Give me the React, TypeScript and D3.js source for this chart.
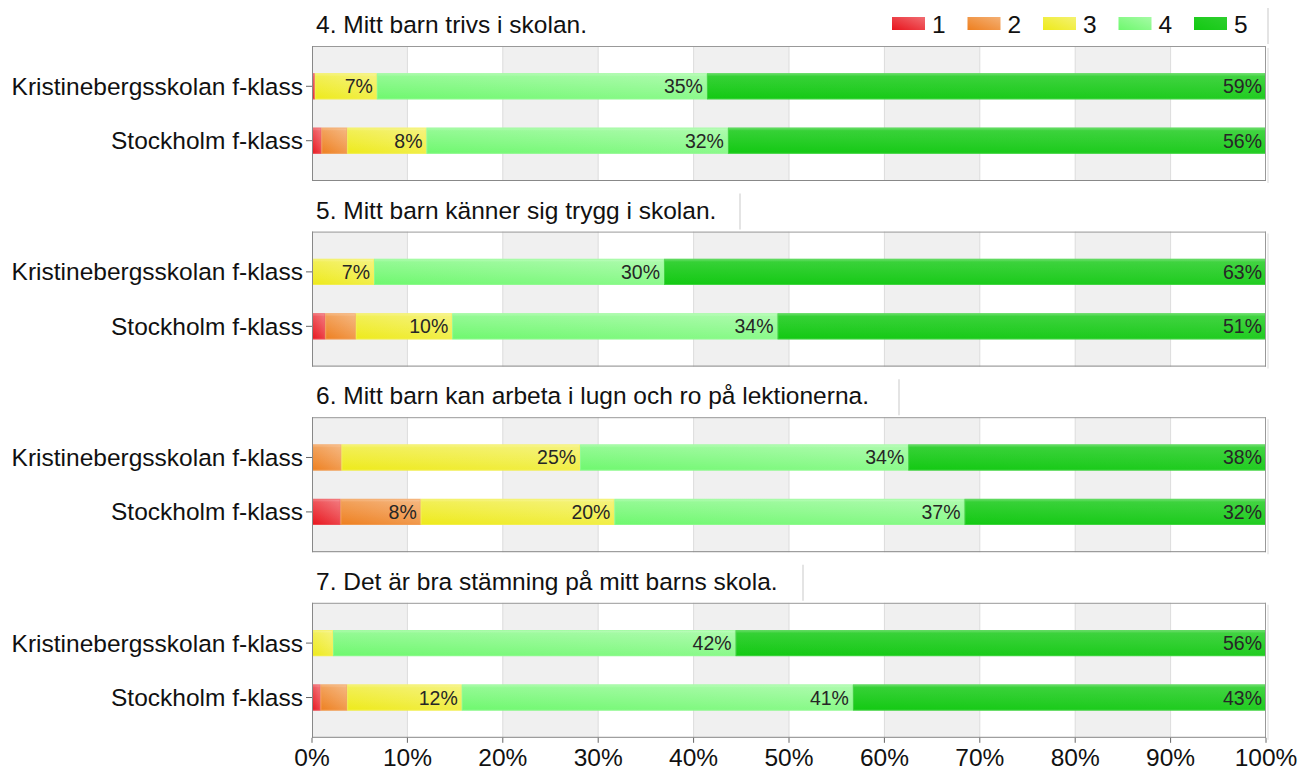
import React from 'react';
import * as d3 from 'd3';

// survey questions (one panel each)
const questions = [
  '4. Mitt barn trivs i skolan.',
  '5. Mitt barn känner sig trygg i skolan.',
  '6. Mitt barn kan arbeta i lugn och ro på lektionerna.',
  '7. Det är bra stämning på mitt barns skola.',
];
const groups = ['Kristinebergsskolan f-klass', 'Stockholm f-klass'];
const answerKeys = ['1', '2', '3', '4', '5'];
const answerColors = ['#e8141c', '#ee7f1f', '#eeea1a', '#6ef86e', '#12c912'];

// percentage share of answers 1..5, per question, per group
const kristinebergValues = [
  [0.3, 0, 6.5, 34.6, 58.6],
  [0, 0, 6.5, 30.4, 63.1],
  [0, 3.1, 25.0, 34.4, 37.5],
  [0, 0, 2.2, 42.2, 55.6],
];
const stockholmValues = [
  [1.0, 2.7, 8.3, 31.6, 56.4],
  [1.4, 3.2, 10.1, 34.1, 51.2],
  [3.0, 8.4, 20.3, 36.7, 31.6],
  [0.9, 2.8, 12.0, 41.0, 43.3],
];
const xTicks = [0, 10, 20, 30, 40, 50, 60, 70, 80, 90, 100];

const W = 1298;
const H = 771;
const FONT = 'Liberation Sans, Arial, sans-serif';

const margin = { left: 312, right: 32, top: 46 };
const panelH = 135;
const panelStep = 185.6;

export default function App() {
  const x = d3.scaleLinear().domain([0, 100]).range([margin.left, W - margin.right]);
  const panelY = d3.scaleLinear().domain([0, 1]).range([margin.top, margin.top + panelStep]);
  const rowY = d3.scaleBand<string>().domain(groups).range([0, panelH]).paddingInner(0.52).paddingOuter(0.5);
  const color = d3.scaleOrdinal<string, string>().domain(answerKeys).range(answerColors);

  const lighten = (c: string, t: number) => d3.interpolateRgb(c, '#ffffff')(t);

  const titleWidths = [956, 428, 587, 491];

  return (
    <svg width={W} height={H} style={{ position: 'absolute', left: 0, top: 0, background: '#fff' }} fontFamily={FONT}>
      <defs>
        {answerKeys.map((k, i) => (
          <linearGradient key={k} id={`grad${k}`} x1="0" y1="1" x2="1" y2="0">
            <stop offset="0%" stopColor={answerColors[i]} />
            <stop offset="100%" stopColor={lighten(answerColors[i], k === '5' ? 0.12 : 0.38)} />
          </linearGradient>
        ))}
        <linearGradient id="gloss" x1="0" y1="0" x2="0" y2="1">
          <stop offset="0%" stopColor="#fff" stopOpacity={0.35} />
          <stop offset="12%" stopColor="#fff" stopOpacity={0.1} />
          <stop offset="100%" stopColor="#fff" stopOpacity={0} />
        </linearGradient>
      </defs>

      {questions.map((q, qi) => {
        const top = panelY(qi);
        const bottom = top + panelH;
        const rows = [kristinebergValues[qi], stockholmValues[qi]];
        return (
          <g key={q}>
            {/* title strip with soft shadow */}
            <line x1={margin.left + titleWidths[qi]} x2={margin.left + titleWidths[qi]} y1={top - 38} y2={top - 2} stroke="#e4e4e4" strokeWidth={2} />
            <text x={x(0) + 4} y={top - 13} fontSize={24.5} fill="#111">{q}</text>

            {/* alternating bands */}
            {xTicks.slice(0, -1).map((t, i) => (
              <rect key={t} x={x(t)} y={top} width={x(t + 10) - x(t)} height={panelH} fill={i % 2 === 0 ? '#f0f0f0' : '#fff'} />
            ))}
            {xTicks.slice(1, -1).map((t) => (
              <line key={t} x1={x(t)} x2={x(t)} y1={top} y2={bottom} stroke="#dcdcdc" />
            ))}

            {/* bars */}
            {rows.map((vals, ri) => {
              const y0 = top + (rowY(groups[ri]) ?? 0);
              const bh = rowY.bandwidth();
              let acc = 0;
              const segs = vals.map((v, k) => {
                const s = { k: answerKeys[k], start: acc, v };
                acc += v;
                return s;
              });
              return (
                <g key={ri}>
                  <line x1={x(0) - 6} x2={x(0)} y1={y0 + bh / 2} y2={y0 + bh / 2} stroke="#666" />
                  <text x={x(0) - 9} y={y0 + bh / 2 + 8.5} textAnchor="end" fontSize={24.5} fill="#111">{groups[ri]}</text>
                  {segs.filter((s) => s.v > 0).map((s) => (
                    <g key={s.k}>
                      <rect x={x(s.start)} y={y0} width={x(s.start + s.v) - x(s.start)} height={bh} fill={`url(#grad${s.k})`} />
                      <rect x={x(s.start)} y={y0} width={x(s.start + s.v) - x(s.start)} height={bh} fill="url(#gloss)" />
                      <rect x={x(s.start) + 0.5} y={y0 + 0.5} width={Math.max(0, x(s.start + s.v) - x(s.start) - 1)} height={bh - 1} fill="none" stroke={lighten(color(s.k), 0.3)} strokeOpacity={0.6} />
                    </g>
                  ))}
                  {segs.filter((s) => s.v >= 5).map((s) => (
                    <text key={`l${s.k}`} x={x(s.start + s.v) - 4} y={y0 + bh / 2 + 7} textAnchor="end" fontSize={19.5} fill="#262626">
                      {`${Math.round(s.v)}%`}
                    </text>
                  ))}
                </g>
              );
            })}

            {/* frame */}
            <line x1={x(100) + 2} x2={x(100) + 2} y1={top + 2} y2={bottom + 2} stroke="#ececec" strokeWidth={2} />
            <line x1={x(0)} x2={x(100)} y1={top + 0.5} y2={top + 0.5} stroke="#999" />
            <line x1={x(100) - 0.5} x2={x(100) - 0.5} y1={top} y2={bottom} stroke="#999" />
            <line x1={x(0)} x2={x(100)} y1={bottom - 0.5} y2={bottom - 0.5} stroke="#888" />
            <line x1={x(0) + 0.5} x2={x(0) + 0.5} y1={top} y2={bottom} stroke="#888" />
          </g>
        );
      })}

      {/* x axis */}
      {xTicks.map((t) => (
        <g key={t}>
          <line x1={x(t)} x2={x(t)} y1={panelY(3) + panelH} y2={panelY(3) + panelH + 5} stroke="#666" />
          <text x={x(t)} y={766} textAnchor="middle" fontSize={24.5} fill="#111">{`${t}%`}</text>
        </g>
      ))}

      {/* legend */}
      {answerKeys.map((k, i) => {
        const lx = 892 + i * 75.5;
        return (
          <g key={k}>
            <rect x={lx} y={17} width={33} height={13} fill={`url(#grad${k})`} />
            <text x={lx + 40} y={33} fontSize={24.5} fill="#111">{k}</text>
          </g>
        );
      })}
    </svg>
  );
}
